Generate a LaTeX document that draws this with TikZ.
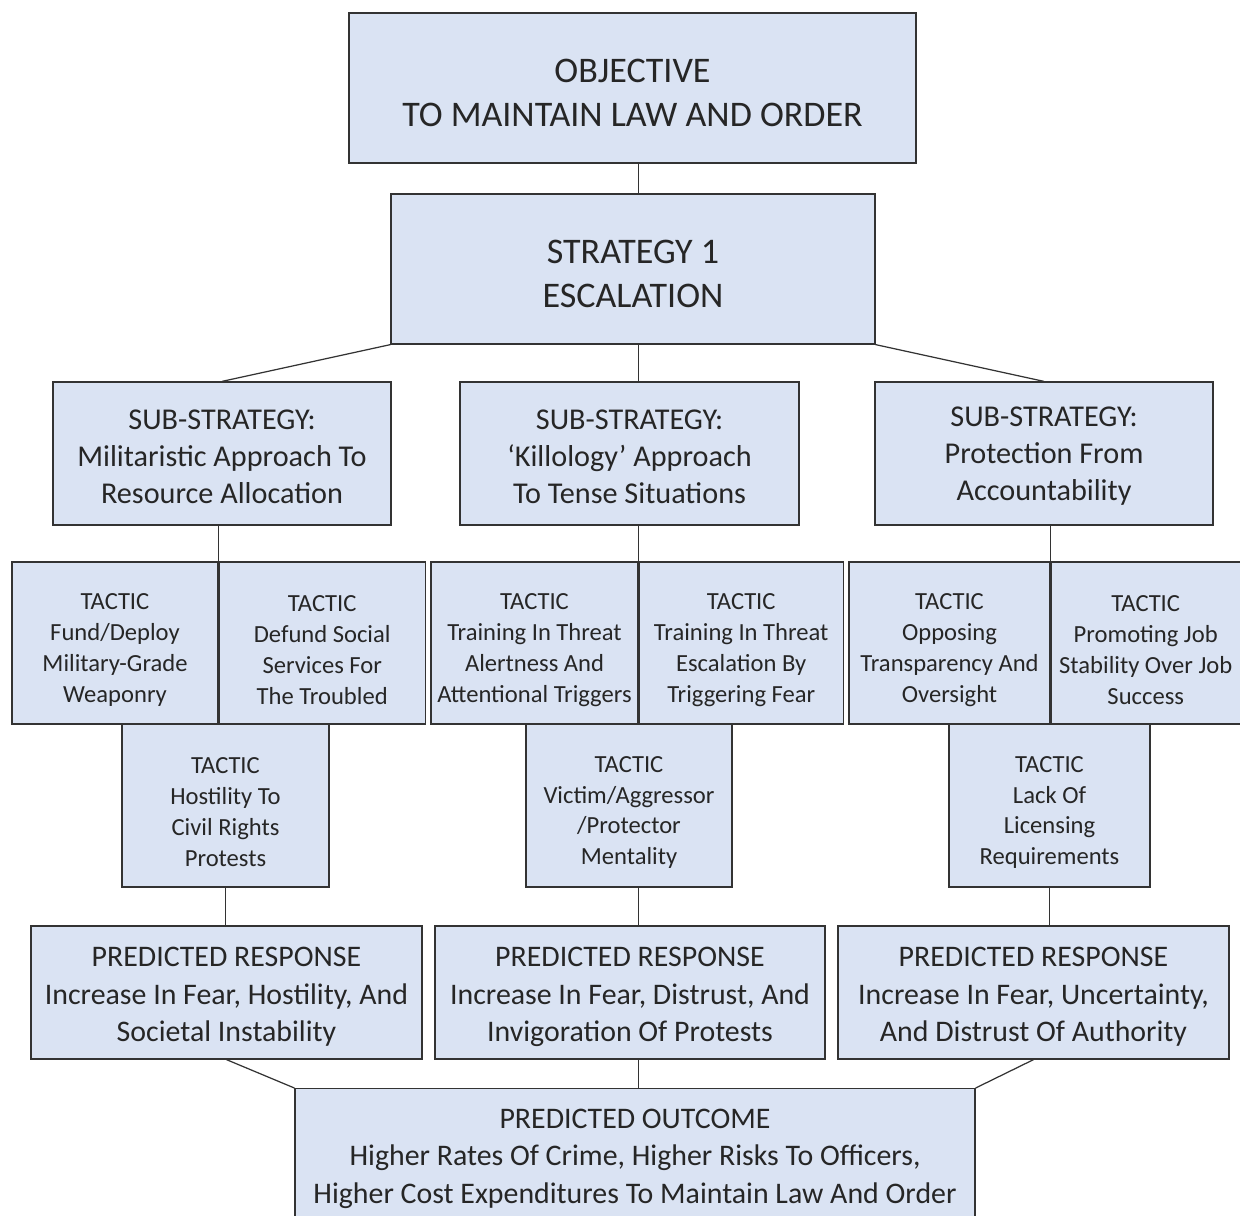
\documentclass[tikz,border=0pt]{standalone}
\usepackage{fontspec}
\setmainfont{Carlito}
\usepackage{xcolor}
\usepackage{tikz}
\usetikzlibrary{positioning,calc}
\definecolor{boxfill}{HTML}{DAE3F3}
\definecolor{boxline}{HTML}{333333}
\definecolor{txt}{HTML}{262626}
\tikzset{
  basebox/.style={
    rectangle, draw=boxline, fill=boxfill, line width=0.7pt,
    align=center, inner sep=2pt, text=txt
  },
  dropline/.style={execute at begin node={\rule{0pt}{#1}}},
  topbox/.style={basebox, minimum height=3.0cm, dropline=43.4pt,
    font=\fontsize{20.5}{24.5}\selectfont},
  subbox/.style={basebox, minimum width=6.76cm, minimum height=2.86cm,
    dropline=56.5pt, font=\fontsize{17.2}{21}\selectfont},
  tacticbox/.style={basebox, minimum width=#1, minimum height=3.24cm,
    dropline=69.8pt, font=\fontsize{14}{17.6}\selectfont},
  tacticbox/.default=4.12cm,
  predbox/.style={basebox, minimum width=7.82cm, minimum height=2.66cm,
    dropline=58.6pt, font=\fontsize{17}{21.3}\selectfont},
  link/.style={draw=boxline, line width=0.7pt}
}
\begin{document}
\begin{tikzpicture}
  \useasboundingbox[fill=white] (0,0) rectangle (24.8,-24.3);
  % Objective and strategy
  \node[topbox, minimum width=11.34cm] (obj) at (12.65,-1.76)
    {OBJECTIVE\\TO MAINTAIN LAW AND ORDER};
  \node[topbox, minimum width=9.68cm] (strat) at (12.66,-5.38)
    {STRATEGY 1\\ESCALATION};
  % Sub-strategies
  \node[subbox] (sub1) at (4.44,-9.07)
    {SUB-STRATEGY:\\Militaristic Approach To\\Resource Allocation};
  \node[subbox, minimum width=6.78cm] (sub2) at (12.59,-9.07)
    {SUB-STRATEGY:\\`Killology' Approach\\To Tense Situations};
  \node[subbox] (sub3) at (20.88,-9.07)
    {SUB-STRATEGY:\\Protection From\\Accountability};
  % Tactics, first row
  \node[tacticbox] (tac1) at (2.30,-12.86)
    {TACTIC\\Fund/Deploy\\Military-Grade\\Weaponry};
  \node[tacticbox, right=0pt of tac1] (tac2)
    {TACTIC\\Defund Social\\Services For\\The Troubled};
  \node[tacticbox=4.14cm] (tac3) at (10.69,-12.86)
    {TACTIC\\Training In Threat\\Alertness And\\Attentional Triggers};
  \node[tacticbox=4.08cm, right=0pt of tac3] (tac4)
    {TACTIC\\Training In Threat\\Escalation By\\Triggering Fear};
  \node[tacticbox=4.02cm] (tac5) at (18.99,-12.86)
    {TACTIC\\Opposing\\Transparency And\\Oversight};
  \node[tacticbox=3.78cm, right=0pt of tac5] (tac6)
    {TACTIC\\Promoting Job\\Stability Over Job\\Success};
  % Tactics, second row
  \node[tacticbox=4.14cm, minimum height=3.26cm] (tac7) at (4.51,-16.11)
    {TACTIC\\Hostility To\\Civil Rights\\Protests};
  \node[tacticbox, minimum height=3.26cm] (tac8) at (12.58,-16.11)
    {TACTIC\\Victim/Aggressor\\/Protector\\Mentality};
  \node[tacticbox=4.02cm, minimum height=3.26cm] (tac9) at (20.99,-16.11)
    {TACTIC\\Lack Of\\Licensing\\Requirements};
  % Predicted responses
  \node[predbox] (pred1) at (4.53,-19.85)
    {PREDICTED RESPONSE\\Increase In Fear, Hostility, And\\Societal Instability};
  \node[predbox, minimum width=7.8cm] (pred2) at (12.6,-19.85)
    {PREDICTED RESPONSE\\Increase In Fear, Distrust, And\\Invigoration Of Protests};
  \node[predbox] (pred3) at (20.67,-19.85)
    {PREDICTED RESPONSE\\Increase In Fear, Uncertainty,\\And Distrust Of Authority};
  % Outcome
  \node[predbox, minimum width=13.6cm, minimum height=2.62cm, anchor=north] (outc) at (12.7,-21.76)
    {PREDICTED OUTCOME\\Higher Rates Of Crime, Higher Risks To Officers,\\Higher Cost Expenditures To Maintain Law And Order};
  % Connectors
  \draw[link] (tac3.east |- obj.south) -- (tac3.east |- strat.north);
  \draw[link] (strat.south west) -- (sub1.north);
  \draw[link] (tac3.east |- strat.south) -- (tac3.east |- sub2.north);
  \draw[link] (strat.south east) -- (sub3.north);
  \draw[link] (tac1.east |- sub1.south) -- (tac1.north east);
  \draw[link] (tac3.east |- sub2.south) -- (tac3.north east);
  \draw[link] (tac5.east |- sub3.south) -- (tac5.north east);
  \draw[link] (tac7.south) -- (tac7.south |- pred1.north);
  \draw[link] (tac3.east |- tac8.south) -- (tac3.east |- pred2.north);
  \draw[link] (tac9.south) -- (tac9.south |- pred3.north);
  \draw[link] (pred1.south) -- (outc.north west);
  \draw[link] (tac3.east |- pred2.south) -- (tac3.east |- outc.north);
  \draw[link] (pred3.south) -- (outc.north east);
\end{tikzpicture}
\end{document}
